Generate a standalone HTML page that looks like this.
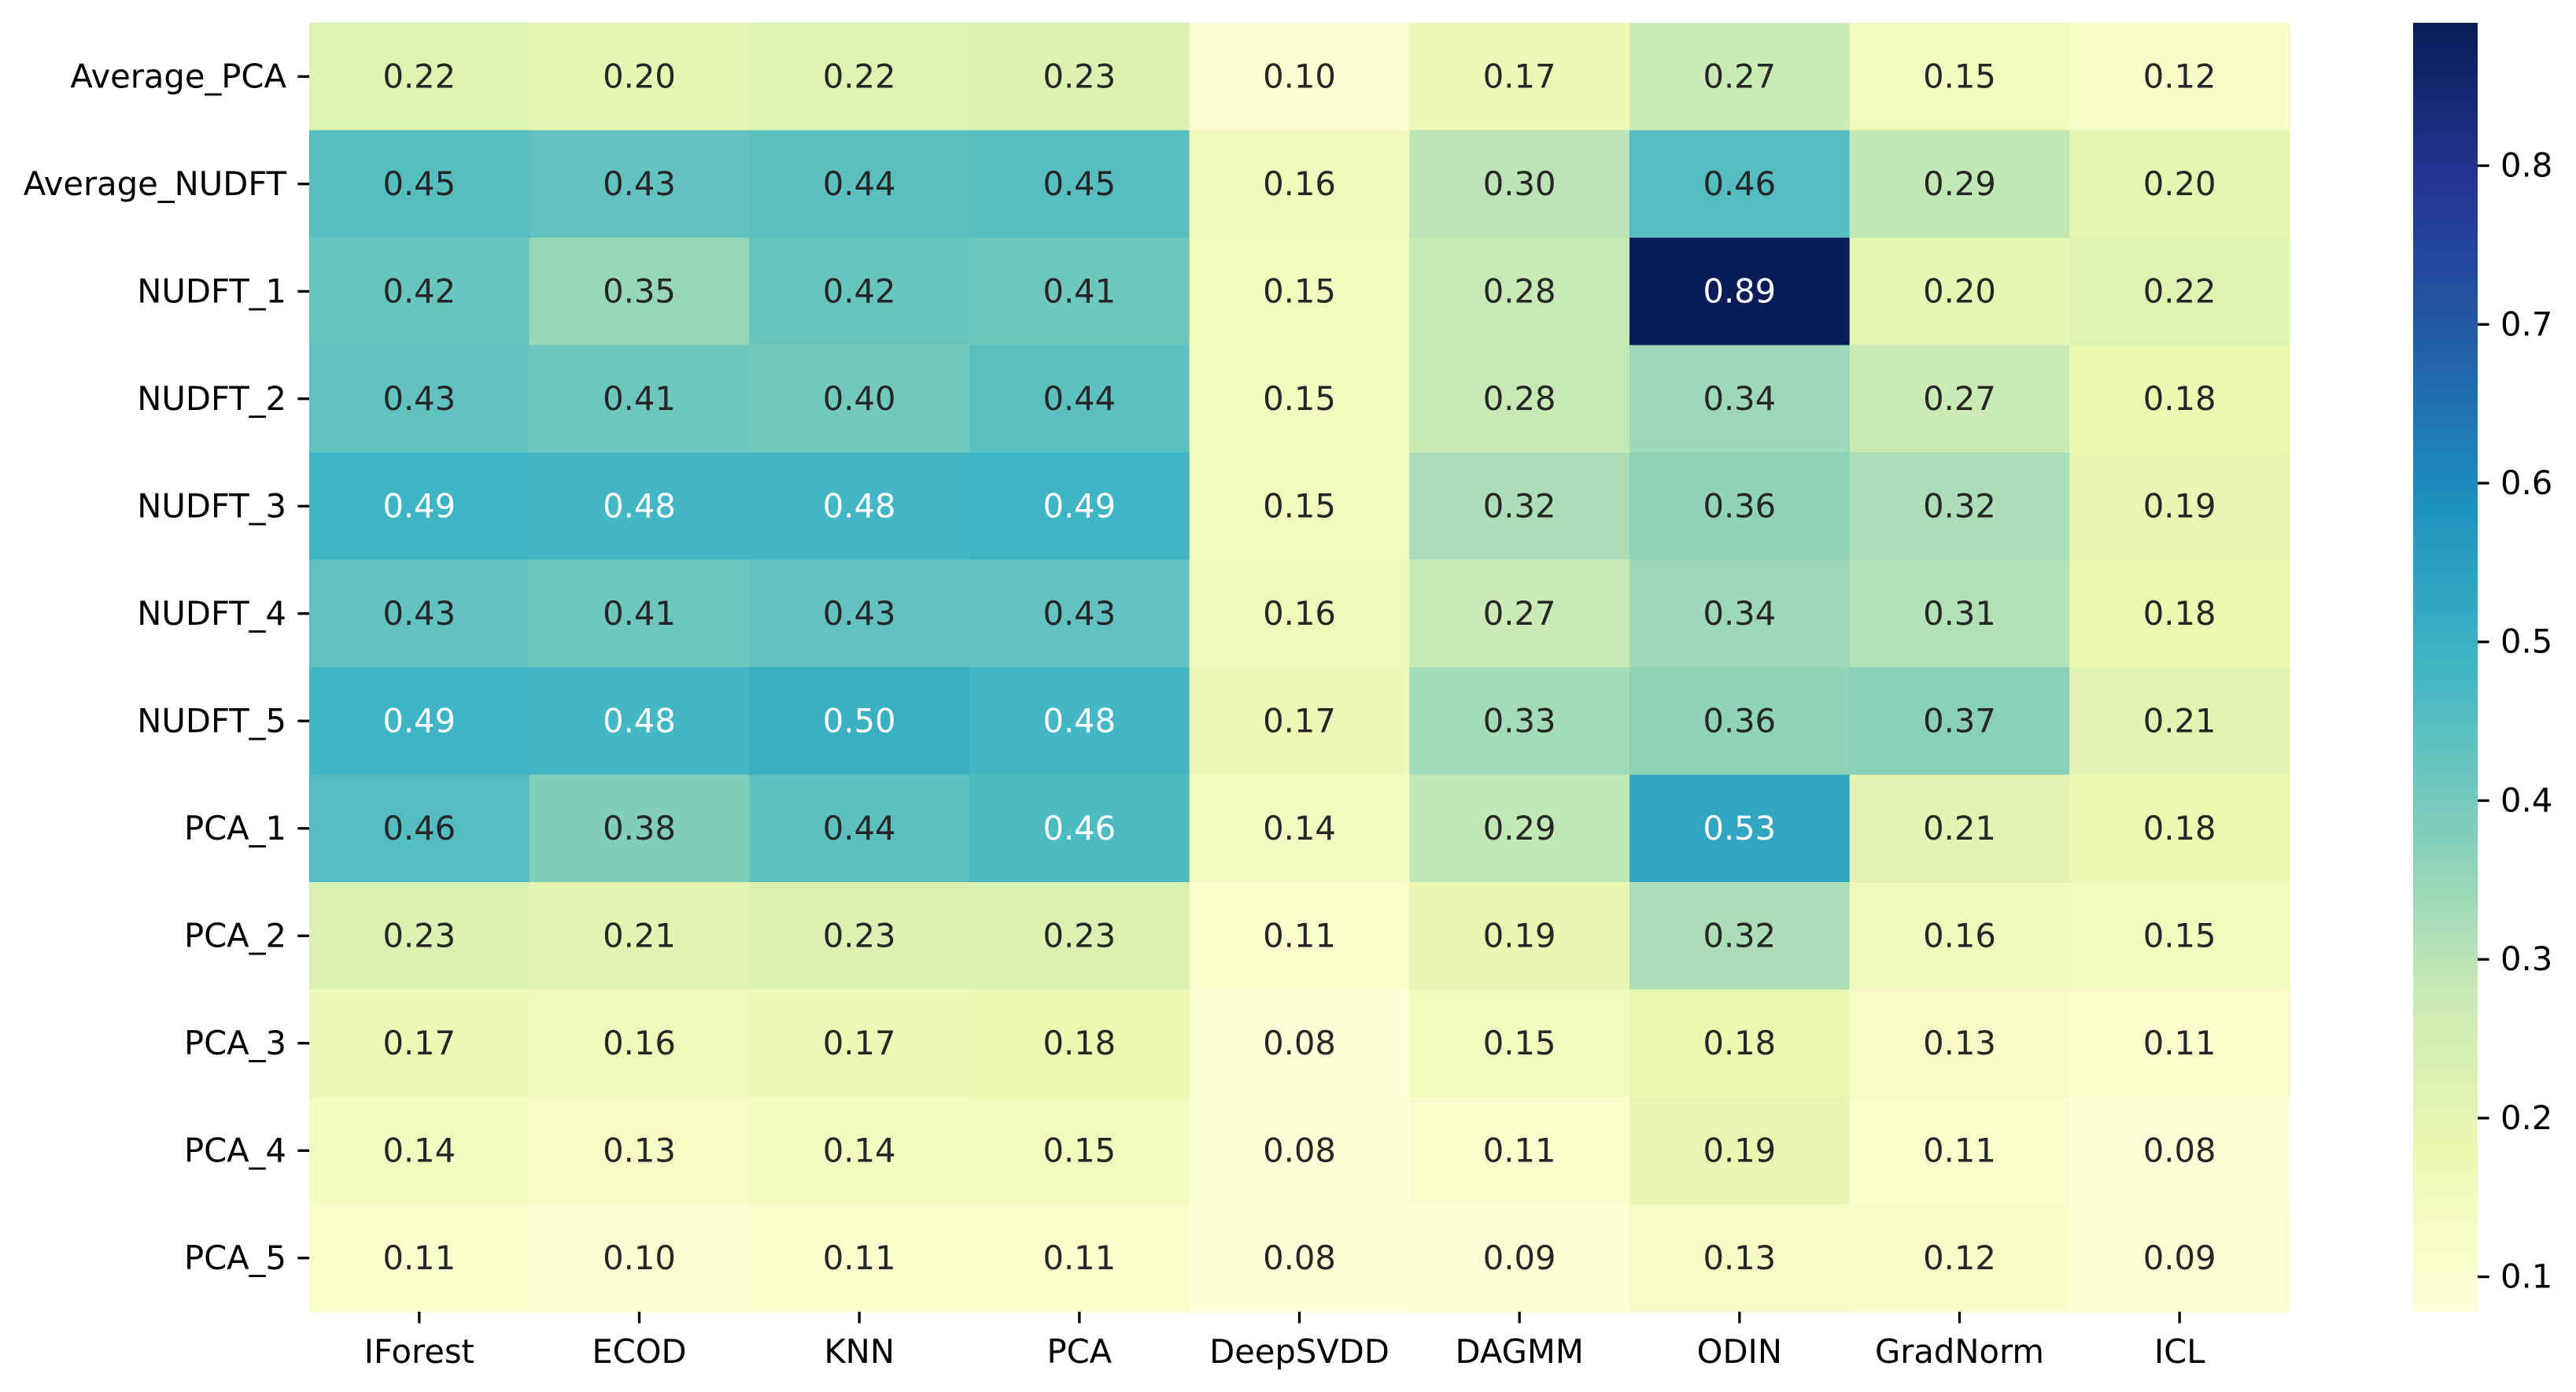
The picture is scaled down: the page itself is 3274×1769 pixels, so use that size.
<!DOCTYPE html>
<html><head><meta charset="utf-8"><style>
html,body{margin:0;padding:0;background:#fff;}
svg{display:block;font-family:"DejaVu Sans","Liberation Sans",sans-serif;}
</style></head><body>
<svg id="chart" width="3274" height="1769" viewBox="0 0 3274 1769" xmlns="http://www.w3.org/2000/svg">
<defs>
<linearGradient id="cbgrad" x1="0" y1="1" x2="0" y2="0">
<stop offset="0" stop-color="#ffffd9"/><stop offset="0.125" stop-color="#edf8b1"/><stop offset="0.25" stop-color="#c7e9b4"/><stop offset="0.375" stop-color="#7fcdbb"/><stop offset="0.5" stop-color="#41b6c4"/><stop offset="0.625" stop-color="#1d91c0"/><stop offset="0.75" stop-color="#225ea8"/><stop offset="0.875" stop-color="#253494"/><stop offset="1" stop-color="#081d58"/>
</linearGradient>
</defs>
<g id="cells"></g>
<g id="ylab"></g>
<g id="xlab"></g>
<g id="cbar"></g>
</svg>
<script>
const rowLabels = ["Average_PCA","Average_NUDFT","NUDFT_1","NUDFT_2","NUDFT_3","NUDFT_4","NUDFT_5","PCA_1","PCA_2","PCA_3","PCA_4","PCA_5"];
const colLabels = ["IForest","ECOD","KNN","PCA","DeepSVDD","DAGMM","ODIN","GradNorm","ICL"];
const values = [
[0.22,0.20,0.22,0.23,0.10,0.17,0.27,0.15,0.12],
[0.45,0.43,0.44,0.45,0.16,0.30,0.4551,0.29,0.20],
[0.42,0.35,0.42,0.41,0.15,0.28,0.89,0.20,0.22],
[0.43,0.41,0.40,0.44,0.15,0.28,0.34,0.27,0.18],
[0.49,0.48,0.48,0.49,0.15,0.32,0.36,0.32,0.19],
[0.43,0.41,0.43,0.43,0.16,0.27,0.34,0.31,0.18],
[0.49,0.48,0.50,0.48,0.17,0.33,0.36,0.37,0.21],
[0.4551,0.38,0.44,0.464,0.14,0.29,0.53,0.21,0.18],
[0.23,0.21,0.23,0.23,0.11,0.19,0.32,0.16,0.15],
[0.17,0.16,0.17,0.18,0.08,0.15,0.18,0.13,0.11],
[0.14,0.13,0.14,0.15,0.08,0.11,0.19,0.11,0.08],
[0.11,0.10,0.11,0.11,0.08,0.09,0.13,0.12,0.09]
];
const cbTicks = [0.1,0.2,0.3,0.4,0.5,0.6,0.7,0.8];

const NS="http://www.w3.org/2000/svg";
const L=393,R=2910,T=29,B=1667;
const cw=(R-L)/colLabels.length, rh=(B-T)/rowLabels.length;
const flat=values.flat();
const vmin=Math.min(...flat)-0.002, vmax=Math.max(...flat);
const stops=["#ffffd9","#edf8b1","#c7e9b4","#7fcdbb","#41b6c4","#1d91c0","#225ea8","#253494","#081d58"].map(h=>[1,3,5].map(i=>parseInt(h.substr(i,2),16)));
function cmap(v){let t=(v-vmin)/(vmax-vmin);t=Math.max(0,Math.min(1,t))*(stops.length-1);
 const i=Math.min(Math.floor(t),stops.length-2),f=t-i;
 return stops[i].map((c,k)=>Math.round(c+(stops[i+1][k]-c)*f));}
function lum(rgb){const c=rgb.map(x=>{x/=255;return x<=0.03928?x/12.92:Math.pow((x+0.055)/1.055,2.4);});return 0.2126*c[0]+0.7152*c[1]+0.0722*c[2];}
function mk(tag,attrs,parent){const e=document.createElementNS(NS,tag);for(const k in attrs)e.setAttribute(k,attrs[k]);parent.appendChild(e);return e;}
const FS=41.67;
const cells=document.getElementById('cells');
values.forEach((row,r)=>row.forEach((v,c)=>{
 const rgb=cmap(v);
 const rect=mk('rect',{x:L+c*cw,y:T+r*rh,width:cw+0.6,height:rh+0.6,fill:`rgb(${rgb.join(',')})`},cells);
 
 
 const tx=mk('text',{x:L+(c+0.5)*cw,y:T+(r+0.5)*rh+14,'text-anchor':'middle','font-size':FS,fill:lum(rgb)>0.415?'#262626':'#ffffff'},cells);
 tx.textContent=v.toFixed(2);
 
 
}));
const yl=document.getElementById('ylab');
rowLabels.forEach((lab,r)=>{
 const y=T+(r+0.5)*rh;
 const tk=mk('line',{x1:L-14.6,x2:L,y1:y,y2:y,stroke:'#000','stroke-width':3.3},yl);
 
 
 const t=mk('text',{x:L-29,y:y+14,'text-anchor':'end','font-size':FS,fill:'#000'},yl);
 t.textContent=lab;
 
 
});
const xl=document.getElementById('xlab');
colLabels.forEach((lab,c)=>{
 const x=L+(c+0.5)*cw;
 const tk=mk('line',{x1:x,x2:x,y1:B,y2:B+14.6,stroke:'#000','stroke-width':3.3},xl);
 
 
 const t=mk('text',{x:x,y:1732,'text-anchor':'middle','font-size':FS,fill:'#000'},xl);
 t.textContent=lab;
 
 
});
const cb=document.getElementById('cbar');
const CL=3067,CR=3149;
const br=mk('rect',{x:CL,y:T,width:CR-CL,height:B-T,fill:'url(#cbgrad)'},cb);


cbTicks.forEach(v=>{
 const y=B-(v-vmin)/(vmax-vmin)*(B-T);
 const tk=mk('line',{x1:CR,x2:CR+14.6,y1:y,y2:y,stroke:'#000','stroke-width':3.3},cb);
 
 
 const t=mk('text',{x:CR+29,y:y+14,'font-size':FS,fill:'#000'},cb);
 t.textContent=v.toFixed(1);
 
 
});
</script>
</body></html>
